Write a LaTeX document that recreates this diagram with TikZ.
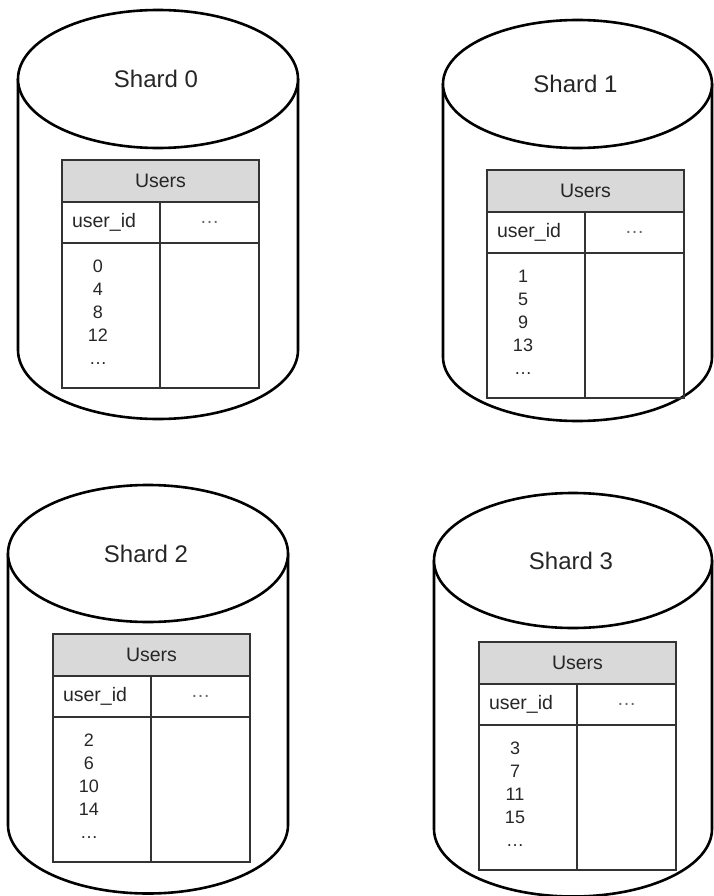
\documentclass[tikz,border=0pt]{standalone}
\usepackage{fontspec}
\setmainfont{Liberation Sans}
\usetikzlibrary{positioning}
\tikzset{%
  cyl/.style      = {draw, line width=2.6pt}, % database drum
  title/.style    = {font=\fontsize{24}{28}\selectfont, text=black!85},
  cell/.style     = {draw=black!80, line width=1.6pt, rectangle, inner sep=0pt, outer sep=0pt,
    anchor=north west, font=\fontsize{19.5}{23}\selectfont, text=black!85},
  headcell/.style = {cell, fill=black!15, minimum width=197pt, minimum height=42pt},
  keycell/.style  = {cell, minimum width=98pt, minimum height=41pt, text width=78pt, align=left},
  dotcell/.style  = {cell, minimum width=99pt, minimum height=41pt, text=black!60},
  bodycell/.style = {cell, minimum height=145pt},
  idlist/.style   = {inner sep=0pt, align=center, anchor=north,
    font=\fontsize{18}{23}\selectfont, text=black!85}
}
% #1 name, #2 cx, #3 cy, #4 rx, #5 ry, #6 bottom cy, #7 label
\newcommand{\shardcyl}[7]{%
  \draw[cyl] ({#2-#4},{-#3}) -- ({#2-#4},{-#6})
    arc[start angle=180, end angle=360, x radius=#4pt, y radius=#5pt] -- ({#2+#4},{-#3});
  \draw[cyl, fill=white] (#2,-#3) ellipse[x radius=#4pt, y radius=#5pt];
  \node[title] (#1) at ({#2-2},{-#3}) {#7};
}
% #1 name, #2 left, #3 top, #4 ids
\newcommand{\userstable}[4]{%
  \node[headcell] (#1head) at ({#2},{-#3}) {Users};
  \node[keycell] (#1key) at (#1head.south west) {user\_id};
  \node[dotcell] (#1more) at (#1key.north east) {\dots};
  \node[bodycell, minimum width=98pt] (#1col) at (#1key.south west) {};
  \node[bodycell, minimum width=99pt] (#1rest) at (#1more.south west) {};
  \node[idlist] (#1ids) at ([xshift=36pt, yshift=-17pt]#1col.north west) {#4};
}

\begin{document}
\begin{tikzpicture}[x=1pt, y=1pt]
  \useasboundingbox (0,0) rectangle (713,-896);

  \shardcyl{shard0}{158}{79}{140}{69}{350}{Shard 0}
  \userstable{t0}{62}{160}{0\\4\\8\\12\\\dots}

  \shardcyl{shard1}{577.5}{84}{134.5}{64}{357}{Shard 1}
  \userstable{t1}{487}{170}{1\\5\\9\\13\\\dots}

  \shardcyl{shard2}{148}{553.5}{140}{68.5}{825}{Shard 2}
  \userstable{t2}{53}{634}{2\\6\\10\\14\\\dots}

  \shardcyl{shard3}{573}{560.5}{139}{67.5}{829}{Shard 3}
  \userstable{t3}{479}{642}{3\\7\\11\\15\\\dots}

\end{tikzpicture}
\end{document}
